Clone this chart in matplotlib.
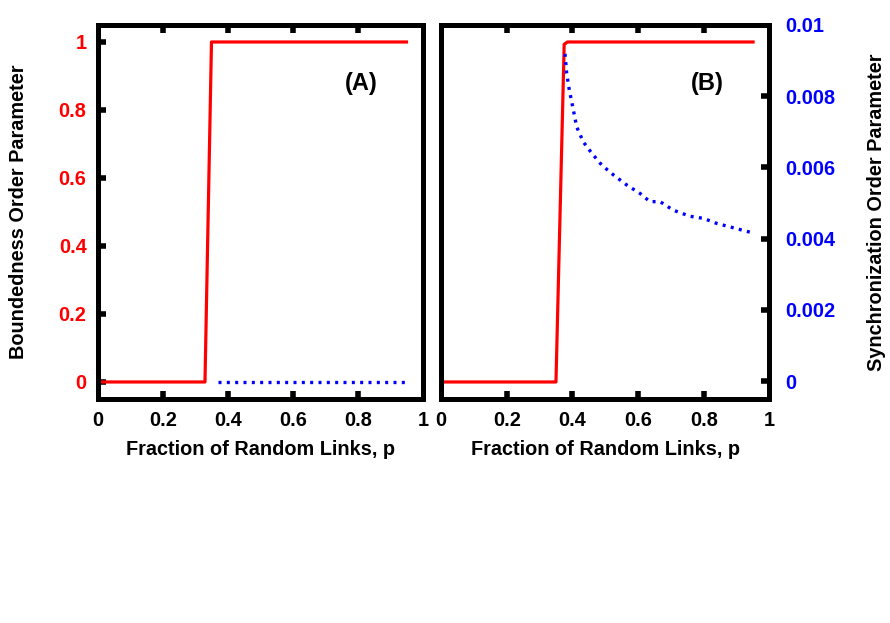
import matplotlib.pyplot as plt

plt.rcParams['font.family'] = ['Liberation Sans', 'DejaVu Sans']
plt.rcParams['font.weight'] = 'bold'

# panel A: boundedness order parameter
p_bound_a = [0.0, 0.33, 0.35, 0.95]
bound_a = [0.0, 0.0, 1.0, 1.0]
p_sync_a = [0.37, 0.95]
sync_a = [0.0, 0.0]

# panel B: boundedness and synchronization order parameters
p_bound_b = [0.0, 0.35, 0.375, 0.385, 0.95]
bound_b = [0.0, 0.0, 0.993, 1.0, 1.0]
p_sync_b = [0.3775, 0.3826, 0.3907, 0.403, 0.413, 0.433, 0.459, 0.489, 0.525,
            0.565, 0.606, 0.636, 0.667, 0.707, 0.758, 0.799, 0.839, 0.880, 0.946]
sync_b = [0.00919, 0.00864, 0.00817, 0.00761, 0.00714, 0.00672, 0.00640, 0.00607,
          0.00579, 0.00551, 0.00527, 0.00504, 0.00504, 0.00480, 0.00463, 0.00457,
          0.00443, 0.00433, 0.00417]

x_ticks = [0, 0.2, 0.4, 0.6, 0.8, 1]
y_ticks = [0, 0.2, 0.4, 0.6, 0.8, 1]
sync_ticks = [0, 0.002, 0.004, 0.006, 0.008, 0.01]

RED = '#ff0000'
BLUE = '#0000ff'
FS = 14.3
DOTS = (0, (0.9, 1.6))

fig = plt.figure(figsize=(8.9, 6.23), dpi=100)
axA = fig.add_axes([0.1098, 0.3596, 0.3652, 0.6003])
axB = fig.add_axes([0.4955, 0.3596, 0.3691, 0.6003])


def hide_end_ticks(axis, idx):
    # tick marks that sit on the frame corners are not drawn
    ticks = axis.get_major_ticks()
    for i in idx:
        ticks[i].tick1line.set_visible(False)
        ticks[i].tick2line.set_visible(False)


def style_frame(ax):
    for s in ax.spines.values():
        s.set_linewidth(3.6)
    ax.set_xlim(0, 1)
    ax.set_ylim(-0.05, 1.05)
    ax.set_xticks(x_ticks)
    ax.set_xticklabels(['0', '0.2', '0.4', '0.6', '0.8', '1'])
    ax.tick_params(axis='x', direction='in', length=6, width=4, pad=9,
                   labelsize=FS, top=True, bottom=True)
    ax.set_xlabel('Fraction of Random Links, p', fontsize=FS, fontweight='bold', labelpad=7)
    hide_end_ticks(ax.xaxis, [0, -1])


# --- panel A ---
style_frame(axA)
axA.plot(p_bound_a, bound_a, color=RED, lw=2.3)
axA.plot(p_sync_a, sync_a, color=BLUE, lw=2.4, linestyle=DOTS)
axA.set_yticks(y_ticks)
axA.set_yticklabels(['0', '0.2', '0.4', '0.6', '0.8', '1'])
axA.tick_params(axis='y', direction='in', length=6, width=4, pad=8,
                labelsize=FS, labelcolor=RED, left=True, right=False)
axA.set_ylabel('Boundedness Order Parameter', fontsize=FS, fontweight='bold', labelpad=22)
axA.text(0.81, 0.878, '(A)', fontsize=17, fontweight='bold', ha='center', va='center')

# --- panel B ---
style_frame(axB)
axB.plot(p_bound_b, bound_b, color=RED, lw=2.3)
axB.set_yticks([])
axB2 = axB.twinx()
axB2.plot(p_sync_b, sync_b, color=BLUE, lw=2.4, linestyle=DOTS)
axB2.set_ylim(-0.0005, 0.01)
axB2.set_yticks(sync_ticks)
axB2.set_yticklabels(['0', '0.002', '0.004', '0.006', '0.008', '0.01'])
axB2.tick_params(axis='y', direction='in', length=6, width=4, pad=11,
                 labelsize=FS, labelcolor=BLUE)
hide_end_ticks(axB2.yaxis, [-1])
for s in axB2.spines.values():
    s.set_linewidth(3.6)
axB2.set_ylabel('Synchronization Order Parameter', fontsize=FS, fontweight='bold', labelpad=23)
axB.text(0.81, 0.879, '(B)', fontsize=17, fontweight='bold', ha='center', va='center')

fig.savefig('out.png', dpi=100)
